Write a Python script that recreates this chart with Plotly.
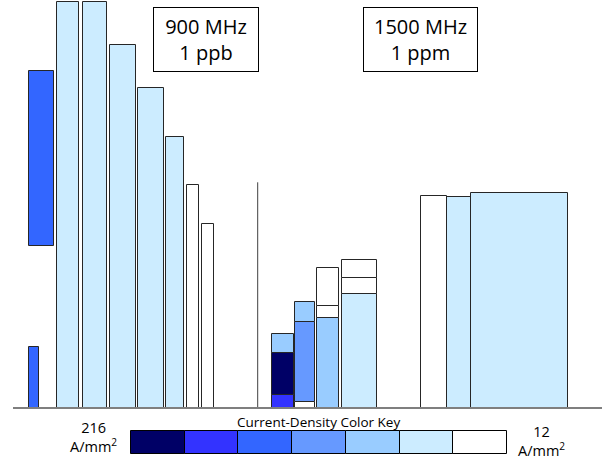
import plotly.graph_objects as go

# ---- data (radial extent r0..r1, axial extent z0..z1, current-density level 0..6) ----
# Level 0 = 216 A/mm^2 (darkest) ... level 6 = 12 A/mm^2 (white)
coil_r0 = [29.0, 29.0, 57.3, 82.7, 110.3, 138.3, 166.3, 187.0, 201.7,
           272.3, 272.3, 272.3, 295.0, 295.0, 295.0, 316.7, 316.7, 316.7,
           341.7, 341.7, 341.7, 421.0, 446.7, 470.7]
coil_r1 = [53.7, 39.0, 79.3, 106.7, 136.3, 164.0, 183.7, 199.3, 213.7,
           293.7, 293.7, 293.7, 314.7, 314.7, 314.7, 339.3, 339.3, 339.3,
           376.7, 376.7, 376.7, 446.7, 470.7, 567.7]
coil_z0 = [162.3, 0.0, 0, 0, 0, 0, 0, 0, 0,
           0.0, 12.7, 55.3, 0.0, 5.7, 86.0, 0.0, 90.0, 102.0,
           0.0, 113.7, 129.7, 0, 0, 0]
coil_z1 = [336.7, 61.0, 406.0, 406.3, 363.0, 320.3, 271.0, 222.7, 183.7,
           12.7, 55.3, 74.3, 5.7, 86.0, 105.7, 90.0, 102.0, 140.3,
           113.7, 129.7, 148.3, 212.3, 211.3, 214.7]
coil_level = [2, 2, 5, 5, 5, 5, 5, 6, 6,
              1, 0, 4, 6, 3, 4, 4, 6, 6,
              5, 6, 6, 6, 5, 5]

key_levels = [0, 1, 2, 3, 4, 5, 6]
key_x0 = 131.0
key_cell = 53.7
key_z0, key_z1 = -46.0, -23.0

divider_r = [257.7, 257.7]
divider_z = [0.0, 225.7]
base_r = [13.0, 602.0]
base_z = [0.0, 0.0]

labels = ["900 MHz<br>1 ppb", "1500 MHz<br>1 ppm"]
label_r = [206.0, 420.7]
label_z = [368.5, 368.5]

palette = ["#000066", "#3333FF", "#3366FF", "#6699FF", "#99CCFF", "#CCECFF", "#FFFFFF"]

fig = go.Figure()

# divider and baseline
fig.add_trace(go.Scatter(x=divider_r, y=divider_z, mode="lines",
                         line=dict(color="#404040", width=1), hoverinfo="skip"))
fig.add_trace(go.Scatter(x=base_r, y=base_z, mode="lines",
                         line=dict(color="#7f7f7f", width=2), hoverinfo="skip"))

# coils
for lvl in range(7):
    idx = [i for i, l in enumerate(coil_level) if l == lvl]
    if not idx:
        continue
    fig.add_trace(go.Bar(
        x=[(coil_r0[i] + coil_r1[i]) / 2 for i in idx],
        width=[coil_r1[i] - coil_r0[i] for i in idx],
        base=[coil_z0[i] for i in idx],
        y=[coil_z1[i] - coil_z0[i] for i in idx],
        marker=dict(color=palette[lvl], line=dict(color="#262626", width=1)),
        hoverinfo="skip",
    ))

# color key
fig.add_trace(go.Bar(
    x=[key_x0 + key_cell * (k + 0.5) for k in key_levels],
    width=[key_cell] * len(key_levels),
    base=[key_z0] * len(key_levels),
    y=[key_z1 - key_z0] * len(key_levels),
    marker=dict(color=[palette[k] for k in key_levels], line=dict(color="#000000", width=1)),
    hoverinfo="skip",
))

font = "Open Sans, Liberation Sans, sans-serif"
annotations = []
for t, r, z, w in zip(labels, label_r, label_z, [104, 113]):
    annotations.append(dict(x=r, y=z, xref="x", yref="y", text=t, showarrow=False,
                            font=dict(family=font, size=20, color="#000"),
                            bordercolor="#000", borderwidth=1, borderpad=0,
                            bgcolor="#fff", width=w, height=63, align="center"))
annotations.append(dict(x=318, y=-14, xref="x", yref="y", text="Current-Density Color Key",
                        showarrow=False, font=dict(family=font, size=13.5, color="#000")))
annotations.append(dict(x=93, y=-29, xref="x", yref="y", text="216<br>A/mm<sup>2</sup>",
                        showarrow=False, font=dict(family=font, size=14.5, color="#000")))
annotations.append(dict(x=541.7, y=-33, xref="x", yref="y", text="12<br>A/mm<sup>2</sup>",
                        showarrow=False, font=dict(family=font, size=14.5, color="#000")))

fig.update_layout(
    width=608, height=459, margin=dict(l=0, r=0, t=0, b=0),
    paper_bgcolor="white", plot_bgcolor="white",
    barmode="overlay", showlegend=False, bargap=0,
    xaxis=dict(range=[0, 608], visible=False),
    yaxis=dict(range=[-51, 408], visible=False),
    annotations=annotations,
)

fig.write_html("out.html")
